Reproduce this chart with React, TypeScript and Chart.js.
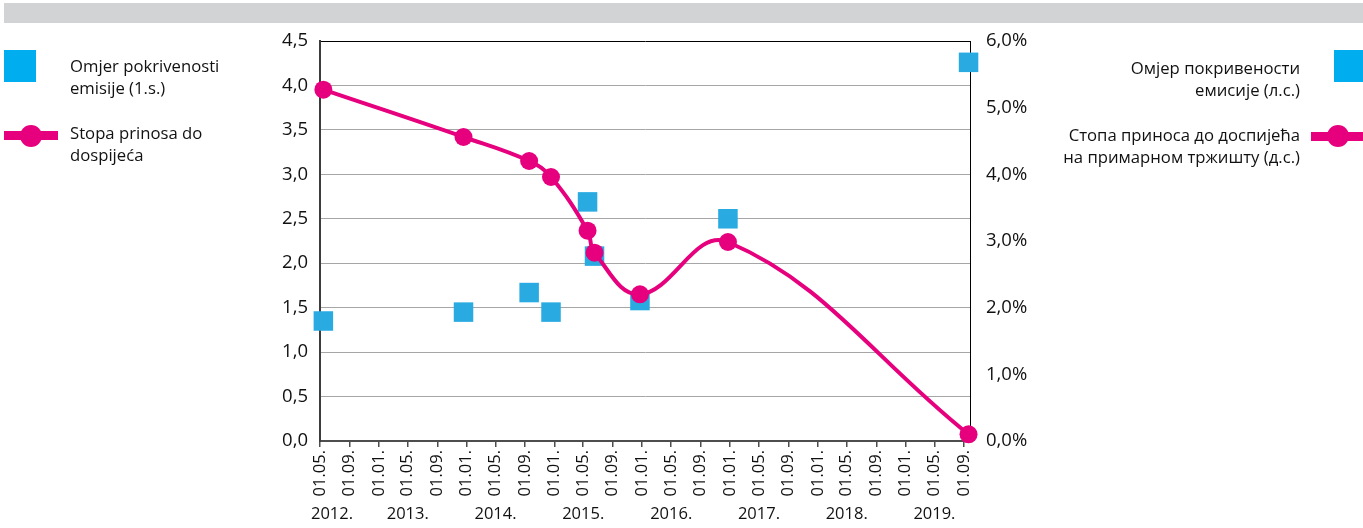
import { useEffect, useRef } from 'react';
import { Chart, registerables } from 'chart.js';

Chart.register(...registerables);

// Auction dates (shared by both series)
const issueDates = [
  '2012-05-15', '2013-12-19', '2014-09-18', '2014-12-18', '2015-05-19',
  '2015-06-17', '2015-12-23', '2016-12-23', '2019-09-20',
];
// Omjer pokrivenosti emisije (left scale)
const coverageRatio = [1.35, 1.45, 1.67, 1.45, 2.69, 2.08, 1.58, 2.5, 4.26];
// Stopa prinosa do dospijeća (right scale, %)
const yieldToMaturity = [5.27, 4.56, 4.2, 3.96, 3.155, 2.825, 2.2, 2.985, 0.1];

const tickDates = [
  '2012-05-01', '2012-09-01', '2013-01-01', '2013-05-01', '2013-09-01',
  '2014-01-01', '2014-05-01', '2014-09-01', '2015-01-01', '2015-05-01',
  '2015-09-01', '2016-01-01', '2016-05-01', '2016-09-01', '2017-01-01',
  '2017-05-01', '2017-09-01', '2018-01-01', '2018-05-01', '2018-09-01',
  '2019-01-01', '2019-05-01', '2019-09-01',
];
const tickLabels = [
  '01.05.', '01.09.', '01.01.', '01.05.', '01.09.',
  '01.01.', '01.05.', '01.09.', '01.01.', '01.05.',
  '01.09.', '01.01.', '01.05.', '01.09.', '01.01.',
  '01.05.', '01.09.', '01.01.', '01.05.', '01.09.',
  '01.01.', '01.05.', '01.09.',
];
const yearTickDates = [
  '2012-06-20', '2013-05-01', '2014-05-01', '2015-05-01',
  '2016-05-01', '2017-05-01', '2018-05-01', '2019-05-01',
];
const yearLabels = ['2012.', '2013.', '2014.', '2015.', '2016.', '2017.', '2018.', '2019.'];
const xMinDate = '2012-05-01';
const xMaxDate = '2019-09-26';

const leftTicks = { min: 0, max: 4.5, step: 0.5 };
const rightTicks = { min: 0, max: 6, step: 1 };

const day = (s: string) =>
  Date.UTC(+s.slice(0, 4), +s.slice(5, 7) - 1, +s.slice(8, 10)) / 864e5;

const BLUE = '#29abe2';
const LEGEND_BLUE = '#00aeef';
const MAGENTA = '#e6007e';
const FONT = "'Open Sans', sans-serif";
const TEXT = '#111111';

export default function App() {
  const ref = useRef<HTMLCanvasElement>(null);

  useEffect(() => {
    document.body.style.margin = '0';
    Chart.defaults.font.family = FONT;
    const chart = new Chart(ref.current as HTMLCanvasElement, {
      type: 'line',
      data: {
        datasets: [
          {
            label: 'Stopa prinosa do dospijeća',
            data: issueDates.map((d, i) => ({ x: day(d), y: yieldToMaturity[i] })),
            yAxisID: 'y2',
            xAxisID: 'x',
            borderColor: MAGENTA,
            backgroundColor: MAGENTA,
            borderWidth: 4,
            pointRadius: 9,
            pointBorderWidth: 0,
            pointBackgroundColor: MAGENTA,
            tension: 0.4,
            clip: false as any,
            order: 0,
          },
          {
            label: 'Omjer pokrivenosti emisije',
            data: issueDates.map((d, i) => ({ x: day(d), y: coverageRatio[i] })),
            yAxisID: 'y',
            xAxisID: 'x',
            showLine: false,
            pointStyle: 'rect',
            pointRadius: 13.8,
            pointBorderWidth: 0,
            pointBackgroundColor: BLUE,
            backgroundColor: BLUE,
            borderColor: BLUE,
            clip: false as any,
            order: 1,
          },
        ],
      },
      options: {
        animation: false,
        responsive: false,
        events: [],
        layout: { padding: { left: 270, right: 323, top: 41, bottom: 0 } },
        plugins: { legend: { display: false }, tooltip: { enabled: false } },
        scales: {
          x: {
            type: 'linear',
            position: 'bottom',
            weight: 0,
            min: day(xMinDate),
            max: day(xMaxDate),
            afterBuildTicks: (s: any) => {
              s.ticks = tickDates.map((d) => ({ value: day(d) }));
            },
            afterFit: (s: any) => {
              s.height = 63;
            },
            grid: {
              display: true,
              drawOnChartArea: false,
              drawTicks: true,
              tickLength: 6,
              color: '#4d4d4d',
              lineWidth: 1.5,
            },
            border: { display: true, color: '#4d4d4d', width: 2 },
            ticks: {
              autoSkip: false,
              maxRotation: 90,
              minRotation: 90,
              padding: 3,
              color: TEXT,
              font: { size: 16.5, family: FONT },
              callback: (_v: any, i: number) => tickLabels[i],
            },
          },
          x2: {
            type: 'linear',
            position: 'bottom',
            weight: 1,
            min: day(xMinDate),
            max: day(xMaxDate),
            afterBuildTicks: (s: any) => {
              s.ticks = yearTickDates.map((d) => ({ value: day(d) }));
            },
            afterFit: (s: any) => {
              s.height = 24;
            },
            grid: { display: false, drawTicks: false },
            border: { display: false },
            ticks: {
              autoSkip: false,
              maxRotation: 0,
              minRotation: 0,
              padding: 0,
              color: TEXT,
              font: { size: 16.5, family: FONT },
              callback: (_v: any, i: number) => yearLabels[i],
            },
          },
          y: {
            type: 'linear',
            position: 'left',
            min: leftTicks.min,
            max: leftTicks.max,
            afterFit: (s: any) => {
              s.width = 50;
            },
            grid: {
              drawTicks: false,
              color: (c: any) =>
                c.tick && c.tick.value === leftTicks.max
                  ? '#000000'
                  : c.tick && c.tick.value === 0
                  ? 'rgba(0,0,0,0)'
                  : '#a6a6a6',
              lineWidth: 1,
            },
            border: { display: true, color: '#3c3c3c', width: 2 },
            ticks: {
              stepSize: leftTicks.step,
              padding: 12,
              color: TEXT,
              font: { size: 18.5, family: FONT },
              callback: (v: any) => Number(v).toFixed(1).replace('.', ','),
            },
          },
          y2: {
            type: 'linear',
            position: 'right',
            min: rightTicks.min,
            max: rightTicks.max,
            z: 1,
            afterFit: (s: any) => {
              s.width = 70;
            },
            grid: { display: false, drawTicks: false },
            border: { display: true, color: '#000000', width: 1 },
            ticks: {
              stepSize: rightTicks.step,
              padding: 16,
              color: TEXT,
              font: { size: 18.5, family: FONT },
              callback: (v: any) => Number(v).toFixed(1).replace('.', ',') + '%',
            },
          },
        },
      } as any,
    });
    return () => chart.destroy();
  }, []);

  const textStyle: React.CSSProperties = {
    position: 'absolute',
    fontSize: 16.7,
    lineHeight: '22px',
    color: TEXT,
    fontFamily: FONT,
    whiteSpace: 'nowrap',
  };

  return (
    <div
      style={{
        position: 'relative',
        width: 1363,
        height: 528,
        overflow: 'hidden',
        background: '#ffffff',
        fontFamily: FONT,
      }}
    >
      <canvas
        ref={ref}
        width={1363}
        height={528}
        style={{ position: 'absolute', left: 0, top: 0, width: 1363, height: 528, display: 'block' }}
      />
      {/* top grey band */}
      <div style={{ position: 'absolute', left: 4, top: 3, width: 1359, height: 20, background: '#d2d3d5' }} />

      {/* left legend */}
      <div style={{ position: 'absolute', left: 4, top: 50, width: 32, height: 32, background: LEGEND_BLUE }} />
      <div style={{ ...textStyle, left: 70, top: 55 }}>
        Omjer pokrivenosti
        <br />
        emisije (1.s.)
      </div>
      <div style={{ position: 'absolute', left: 4, top: 131, width: 54, height: 9, background: MAGENTA }} />
      <div
        style={{
          position: 'absolute',
          left: 20,
          top: 124.5,
          width: 22,
          height: 22,
          borderRadius: '50%',
          background: MAGENTA,
        }}
      />
      <div style={{ ...textStyle, left: 70, top: 121.5 }}>
        Stopa prinosa do
        <br />
        dospijeća
      </div>

      {/* right legend */}
      <div style={{ position: 'absolute', left: 1334, top: 50, width: 32, height: 32, background: LEGEND_BLUE }} />
      <div style={{ ...textStyle, right: 63, top: 56.5, textAlign: 'right' }}>
        Омјер покривености
        <br />
        емисије (л.с.)
      </div>
      <div style={{ position: 'absolute', left: 1311, top: 131.5, width: 54, height: 9, background: MAGENTA }} />
      <div
        style={{
          position: 'absolute',
          left: 1327,
          top: 125,
          width: 22,
          height: 22,
          borderRadius: '50%',
          background: MAGENTA,
        }}
      />
      <div style={{ ...textStyle, right: 63, top: 124, textAlign: 'right' }}>
        Стопа приноса до доспијећа
        <br />
        на примарном тржишту (д.с.)
      </div>
    </div>
  );
}
